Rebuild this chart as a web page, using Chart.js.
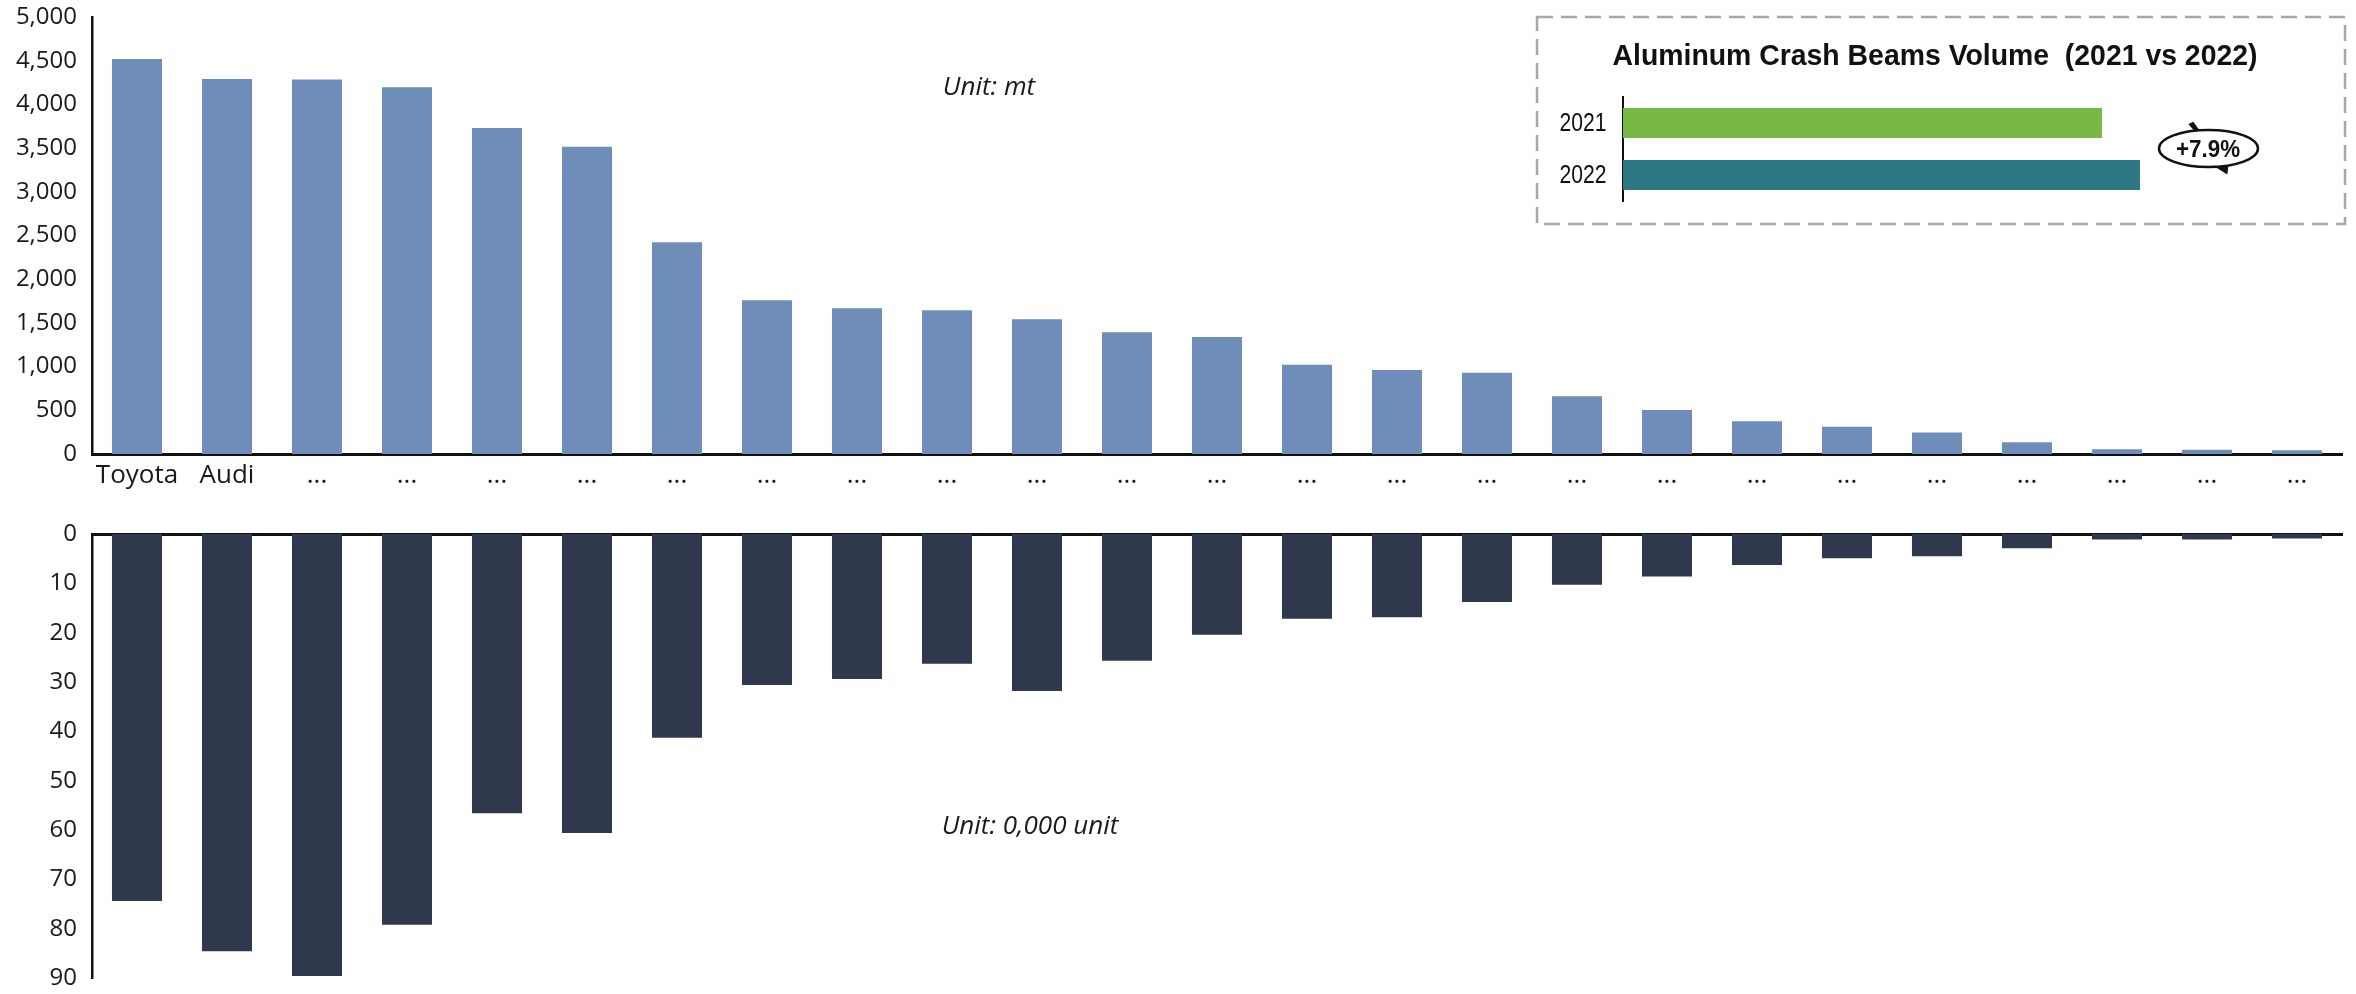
<!DOCTYPE html>
<html>
<head>
<meta charset="utf-8">
<script src="https://cdn.jsdelivr.net/npm/chart.js@4/dist/chart.umd.min.js"></script>
<style>
  html, body { margin: 0; padding: 0; background: #fff; }
  #wrap { position: relative; width: 2356px; height: 994px; overflow: hidden; }
  canvas { position: absolute; }
  .unit { position: absolute; font-family: "Open Sans", "Noto Sans", sans-serif; font-style: italic; font-size: 26px; color: #1a1a1a; white-space: nowrap; transform: translate(-50%, -50%); }
</style>
</head>
<body>
<div id="wrap">
  <canvas id="top" width="2356" height="500" style="left:0;top:0;width:2356px;height:500px"></canvas>
  <canvas id="bottom" width="2356" height="494" style="left:0;top:500px;width:2356px;height:494px"></canvas>
  <canvas id="inset" width="856" height="240" style="left:1500px;top:0;width:856px;height:240px"></canvas>
  <div class="unit" style="left:989px;top:85px">Unit: mt</div>
  <div class="unit" style="left:1030px;top:824px">Unit: 0,000 unit</div>
</div>
<script>
// ---- data ----
const categories = ["Toyota", "Audi", "...", "...", "...", "...", "...", "...", "...", "...", "...", "...", "...",
  "...", "...", "...", "...", "...", "...", "...", "...", "...", "...", "...", "..."];
const volumeMt = [4520, 4290, 4285, 4195, 3730, 3515, 2422, 1758, 1667, 1644, 1541, 1392, 1338,
  1022, 961, 930, 660, 503, 374, 313, 245, 134, 54, 50, 42];
const unitsTenK = [74.4, 84.6, 89.6, 79.2, 56.6, 60.6, 41.3, 30.6, 29.4, 26.3, 31.8, 25.7, 20.4,
  17.2, 16.9, 13.8, 10.3, 8.6, 6.3, 4.9, 4.5, 2.9, 1.1, 1.1, 0.9];
const insetYears = ["2021", "2022"];
const insetVolume = [38550, 41600];
const insetTitle = "Aluminum Crash Beams Volume  (2021 vs 2022)";
const growthLabel = "+7.9%";

const FONT = '"Open Sans", "Noto Sans", sans-serif';
const TXT = '#1a1a1a';

Chart.defaults.font.family = FONT;
Chart.defaults.color = TXT;

function noPad(s) { s.paddingTop = 0; s.paddingBottom = 0; s.paddingLeft = 0; s.paddingRight = 0; }

// ---- top chart ----
new Chart(document.getElementById('top'), {
  type: 'bar',
  data: { labels: categories, datasets: [{ data: volumeMt, backgroundColor: '#6E8DB9', borderWidth: 0,
    categoryPercentage: 1, barPercentage: 0.556 }] },
  options: {
    responsive: false, animation: false, devicePixelRatio: 1,
    layout: { padding: { left: 0, right: 14, top: 17, bottom: 0 } },
    plugins: { legend: { display: false }, tooltip: { enabled: false } },
    scales: {
      x: {
        grid: { display: false, drawTicks: false },
        border: { display: true, color: '#111', width: 3 },
        ticks: { autoSkip: false, maxRotation: 0, font: { size: 26 }, color: TXT, padding: 6 },
        afterFit: s => { s.height = 46; noPad(s); }
      },
      y: {
        min: 0, max: 5000,
        grid: { display: false, drawTicks: false },
        border: { display: true, color: '#111', width: 2.5 },
        ticks: { stepSize: 500, font: { size: 24 }, color: TXT, padding: 15,
          callback: v => v.toLocaleString('en-US') },
        afterFit: s => { s.width = 92; noPad(s); }
      }
    }
  }
});

// ---- bottom chart ----
new Chart(document.getElementById('bottom'), {
  type: 'bar',
  data: { labels: categories, datasets: [{ data: unitsTenK, backgroundColor: '#2F384C', borderWidth: 0,
    categoryPercentage: 1, barPercentage: 0.556 }] },
  options: {
    responsive: false, animation: false, devicePixelRatio: 1,
    layout: { padding: { left: 0, right: 14, top: 34, bottom: 16 } },
    plugins: { legend: { display: false }, tooltip: { enabled: false } },
    scales: {
      x: {
        position: 'top',
        grid: { display: false, drawTicks: false },
        border: { display: true, color: '#111', width: 3 },
        ticks: { display: false },
        afterFit: s => { s.height = 0; noPad(s); }
      },
      y: {
        reverse: true, min: 0, max: 90,
        grid: { display: false, drawTicks: false },
        border: { display: true, color: '#111', width: 2.5 },
        ticks: { stepSize: 10, font: { size: 24 }, color: TXT, padding: 15 },
        afterFit: s => { s.width = 92; noPad(s); }
      }
    }
  }
});

// ---- inset chart ----
function condensedText(ctx, text, cx, cy, font, targetWidth) {
  ctx.save();
  ctx.font = font;
  const w = ctx.measureText(text).width;
  ctx.translate(cx, cy);
  ctx.scale(targetWidth / w, 1);
  ctx.textAlign = 'center';
  ctx.textBaseline = 'middle';
  ctx.fillText(text, 0, 0);
  ctx.restore();
}

const insetDecor = {
  id: 'insetDecor',
  afterDraw(chart) {
    const ctx = chart.ctx;
    const yScale = chart.scales.y;
    ctx.save();
    ctx.strokeStyle = '#A8A8A8';
    ctx.lineWidth = 2.5;
    ctx.setLineDash([16, 8]);
    ctx.strokeRect(37, 17, 808, 207);
    ctx.setLineDash([]);
    ctx.fillStyle = '#111';
    condensedText(ctx, insetTitle, 435, 57, 'bold 29px "Liberation Sans", Arial, sans-serif', 645);
    insetYears.forEach((yr, i) => {
      condensedText(ctx, yr, 83, yScale.getPixelForValue(i) + 1, '25px "Liberation Sans", Arial, sans-serif', 47);
    });
    const cx = 708.5, cy = 148.5;
    ctx.beginPath();
    ctx.ellipse(cx, cy, 49.5, 18.5, 0, 0, Math.PI * 2);
    ctx.fillStyle = '#fff';
    ctx.fill();
    ctx.strokeStyle = '#111';
    ctx.lineWidth = 2.5;
    ctx.stroke();
    ctx.fillStyle = '#111';
    ctx.beginPath();
    ctx.moveTo(688.3, 124); ctx.lineTo(693.3, 121.7); ctx.lineTo(699.3, 130); ctx.lineTo(695, 131.7);
    ctx.closePath(); ctx.fill();
    ctx.beginPath();
    ctx.moveTo(713.3, 165.7); ctx.lineTo(728.3, 166.5); ctx.lineTo(727.3, 174.5);
    ctx.closePath(); ctx.fill();
    condensedText(ctx, growthLabel, 708, 150, 'bold 24px "Liberation Sans", Arial, sans-serif', 64);
    ctx.restore();
  }
};

new Chart(document.getElementById('inset'), {
  type: 'bar',
  data: { labels: insetYears, datasets: [{ data: insetVolume, backgroundColor: ['#77B942', '#2E7885'],
    borderWidth: 0, categoryPercentage: 1, barPercentage: 0.575 }] },
  options: {
    indexAxis: 'y',
    responsive: false, animation: false, devicePixelRatio: 1,
    layout: { padding: { left: 0, right: 111.6, top: 97, bottom: 39 } },
    plugins: { legend: { display: false }, tooltip: { enabled: false } },
    scales: {
      x: { display: false, min: 0, max: 50000 },
      y: {
        grid: { display: false, drawTicks: false },
        border: { display: true, color: '#111', width: 2 },
        ticks: { display: false },
        afterFit: s => { s.width = 123; noPad(s); }
      }
    }
  },
  plugins: [insetDecor]
});
</script>
</body>
</html>
